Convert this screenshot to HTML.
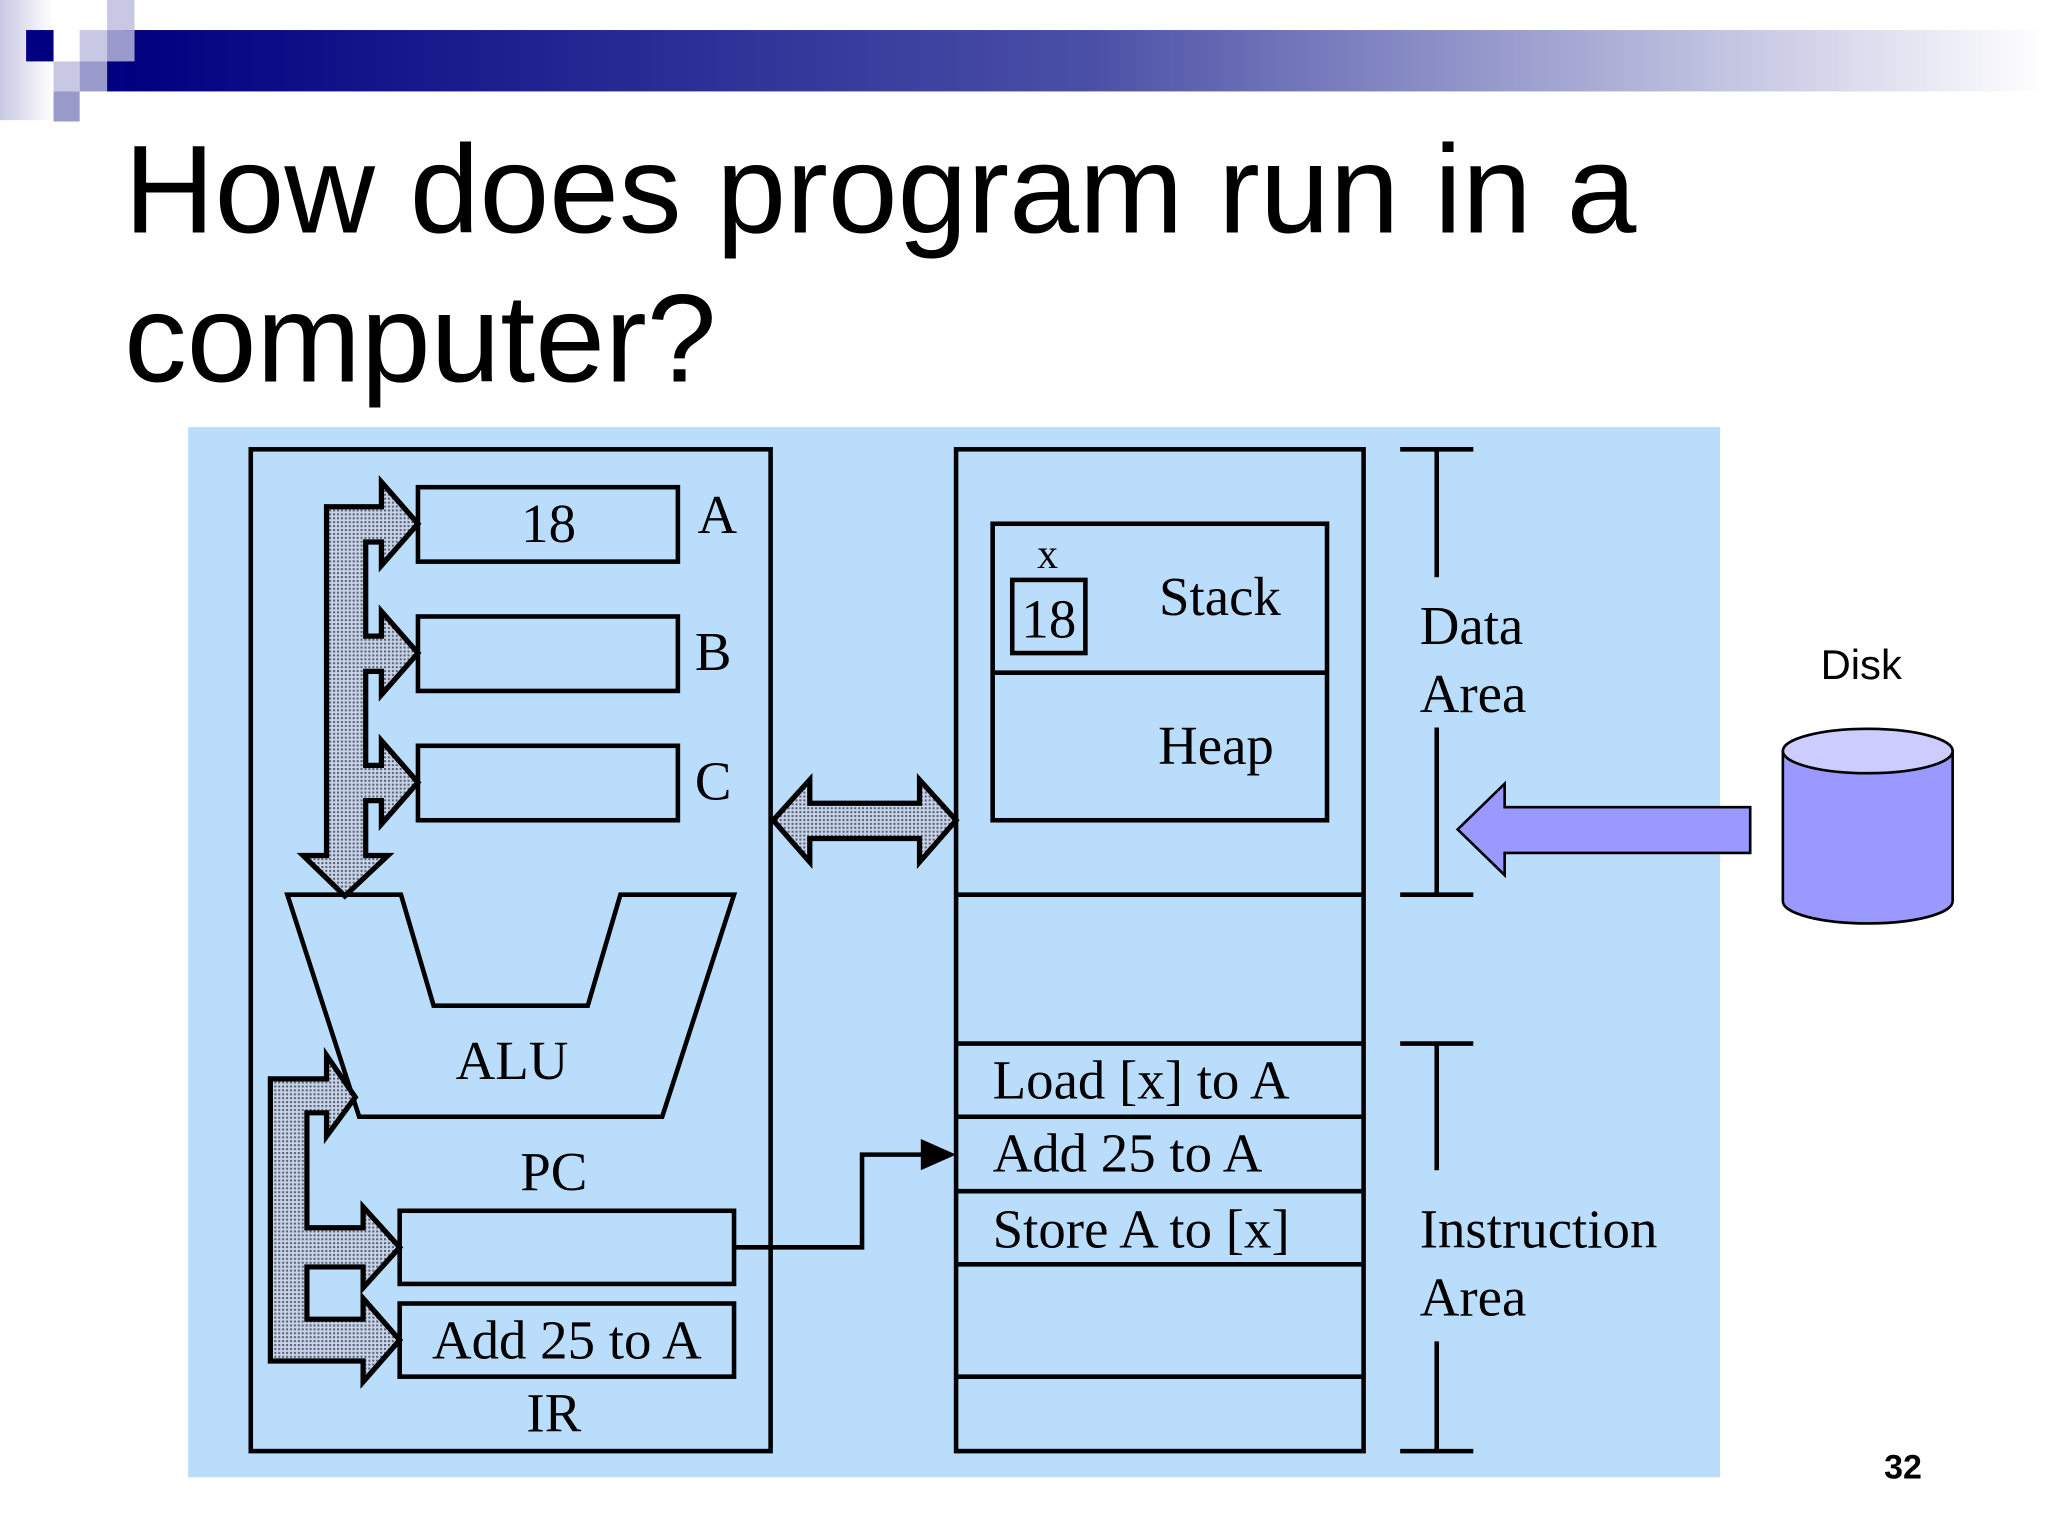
<!DOCTYPE html>
<html><head><meta charset="utf-8"><style>html,body{margin:0;padding:0;background:#fff}svg{display:block}</style></head>
<body>
<svg width="2048" height="1536" viewBox="0 0 1568 1176" xmlns="http://www.w3.org/2000/svg">
<defs>
<linearGradient id="bar" x1="0" x2="1" y1="0" y2="0">
<stop offset="0" stop-color="#000080"/><stop offset="0.5" stop-color="#4a4fa6"/><stop offset="1" stop-color="#ffffff"/>
</linearGradient>
<linearGradient id="lg" x1="0" x2="1"><stop offset="0" stop-color="#c8c8e4"/><stop offset="1" stop-color="#ffffff"/></linearGradient>
<pattern id="dots" width="3" height="3" patternUnits="userSpaceOnUse">
<rect width="3" height="3" fill="#c8d4e8"/><rect width="1.6" height="1.6" fill="#5a6478"/>
</pattern>
</defs>
<rect x="0" y="0" width="41" height="92" fill="url(#lg)"/>
<rect x="93" y="23" width="1475" height="47" fill="url(#bar)"/>
<rect x="20" y="23" width="21" height="24" fill="#000080"/>
<rect x="82" y="0" width="21" height="23" fill="#c8c8e4"/>
<rect x="61" y="23" width="21" height="24" fill="#c8c8e4"/>
<rect x="82" y="23" width="21" height="24" fill="#9999cc"/>
<rect x="41" y="47" width="20" height="23" fill="#c8c8e4"/>
<rect x="61" y="47" width="21" height="23" fill="#9999cc"/>
<rect x="82" y="47" width="11" height="23" fill="#000080"/>
<rect x="41" y="70" width="20" height="23" fill="#9999cc"/>
<g font-family="Liberation Sans, sans-serif" font-size="96" fill="#000">
<text x="95" y="178">How does program run in a</text>
<text x="95" y="292">computer?</text>
</g>
<rect x="144" y="327" width="1173" height="804" fill="#bbddfc"/>
<g fill="none" stroke="#000" stroke-width="3.5">
<rect x="192" y="344" width="398" height="767"/>
<rect x="320" y="373" width="199" height="57"/>
<rect x="320" y="472" width="199" height="57"/>
<rect x="320" y="571" width="199" height="57"/>
<polygon points="220,685 307,685 332,770 450,770 475,685 562,685 507,855 275,855"/>
<rect x="306" y="927" width="256" height="56"/>
<rect x="306" y="998" width="256" height="56"/>
<rect x="732" y="344" width="312" height="767"/>
<rect x="760" y="401" width="256" height="227"/>
<line x1="760" y1="515" x2="1016" y2="515"/>
<rect x="775" y="444" width="56" height="56"/>
<line x1="732" y1="685" x2="1044" y2="685"/>
<line x1="732" y1="799" x2="1044" y2="799"/>
<line x1="732" y1="855" x2="1044" y2="855"/>
<line x1="732" y1="912" x2="1044" y2="912"/>
<line x1="732" y1="968" x2="1044" y2="968"/>
<line x1="732" y1="1054" x2="1044" y2="1054"/>
<polyline points="562,955 660,955 660,884 708,884"/>
<line x1="1100" y1="344" x2="1100" y2="442"/><line x1="1072" y1="344" x2="1128" y2="344"/>
<line x1="1100" y1="557" x2="1100" y2="685"/><line x1="1072" y1="685" x2="1128" y2="685"/>
<line x1="1100" y1="799" x2="1100" y2="896"/><line x1="1072" y1="799" x2="1128" y2="799"/>
<line x1="1100" y1="1027" x2="1100" y2="1111"/><line x1="1072" y1="1111" x2="1128" y2="1111"/>
</g>
<polygon points="705,872 732,884 705,896" fill="#000"/>
<g fill="url(#dots)" stroke="#000" stroke-width="4" stroke-linejoin="miter">
<path d="M250,388 L292,388 L292,369 L320,401 L292,433 L292,415 L280,415 L280,487 L292,487 L292,468 L320,500 L292,532 L292,514 L280,514 L280,586 L292,586 L292,567 L320,599 L292,631 L292,613 L280,613 L280,655 L297,655 L264,686 L232,655 L250,655 Z"/>
<path d="M207,826 L250,826 L250,808 L272,840 L250,870 L250,852 L235,852 L235,940 L278,940 L278,924 L306,955 L278,986 L278,970 L235,970 L235,1010 L278,1010 L278,994 L306,1026 L278,1058 L278,1042 L207,1042 Z"/>
<path d="M592,628 L620,597 L620,615 L704,615 L704,597 L732,628 L704,660 L704,642 L620,642 L620,660 Z"/>
</g>
<polygon points="1116,635 1152,600 1152,618 1340,618 1340,653 1152,653 1152,670" fill="#9999ff" stroke="#000" stroke-width="2"/>
<path d="M1365,575 L1365,690 A65,17 0 0 0 1495,690 L1495,575 Z" fill="#9999ff" stroke="#000" stroke-width="2"/>
<ellipse cx="1430" cy="575" rx="65" ry="17" fill="#ccccff" stroke="#000" stroke-width="2"/>
<g font-family="Liberation Serif, serif" font-size="42" fill="#000">
<text x="420" y="415" text-anchor="middle">18</text>
<text x="534" y="408">A</text>
<text x="532" y="513">B</text>
<text x="532" y="612">C</text>
<text x="392" y="826" text-anchor="middle">ALU</text>
<text x="424" y="911" text-anchor="middle">PC</text>
<text x="434" y="1040" text-anchor="middle">Add 25 to A</text>
<text x="424" y="1096" text-anchor="middle">IR</text>
<text x="802" y="435" text-anchor="middle" font-size="32">x</text>
<text x="803" y="488" text-anchor="middle">18</text>
<text x="934" y="471" text-anchor="middle">Stack</text>
<text x="931" y="585" text-anchor="middle">Heap</text>
<text x="760" y="841">Load [x] to A</text>
<text x="760" y="897">Add 25 to A</text>
<text x="760" y="955">Store A to [x]</text>
<text x="1087" y="493">Data</text>
<text x="1087" y="545">Area</text>
<text x="1087" y="955">Instruction</text>
<text x="1087" y="1007">Area</text>
</g>
<text x="1425" y="520" text-anchor="middle" font-family="Liberation Sans, sans-serif" font-size="32">Disk</text>
<text x="1457" y="1132" text-anchor="middle" font-family="Liberation Sans, sans-serif" font-weight="bold" font-size="26">32</text>
</svg>
</body></html>
